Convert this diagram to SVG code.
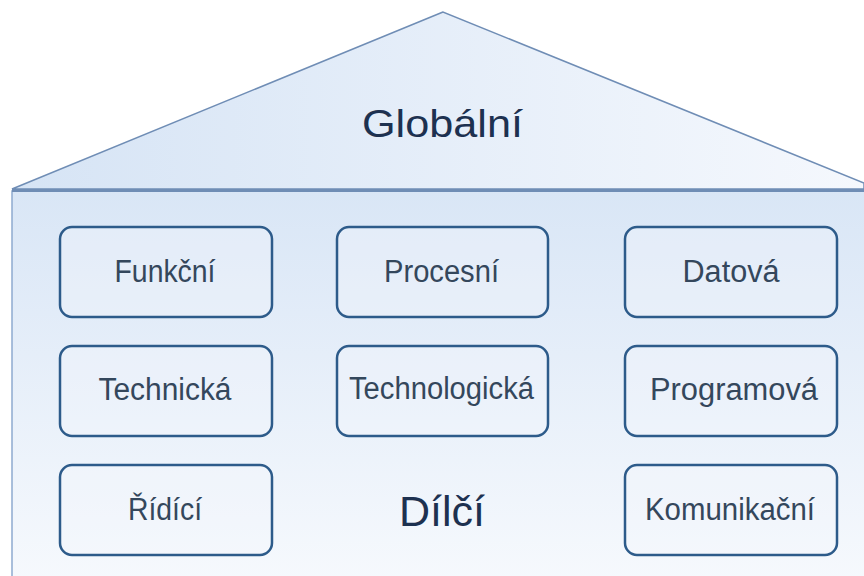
<svg xmlns="http://www.w3.org/2000/svg" width="864" height="576" viewBox="0 0 864 576">
  <defs>
    <linearGradient id="roofFill" x1="0" y1="0" x2="1" y2="0">
      <stop offset="0" stop-color="#d6e4f5"/>
      <stop offset="1" stop-color="#f5f8fd"/>
    </linearGradient>
    <linearGradient id="bodyFill" x1="0" y1="0" x2="0" y2="1">
      <stop offset="0" stop-color="#d9e6f6"/>
      <stop offset="1" stop-color="#f6f9fd"/>
    </linearGradient>
    <style>
      .box { fill: #f3f7fc; fill-opacity: 0.35; stroke: #2d5b8a; stroke-width: 2.5; }
      .lbl { font-family: "Liberation Sans", Arial, sans-serif; font-size: 31px; fill: #34475c; text-anchor: middle; }
      .big { font-family: "Liberation Sans", Arial, sans-serif; fill: #1d3150; text-anchor: middle; }
    </style>
  </defs>

  <rect x="0" y="0" width="864" height="576" fill="#ffffff"/>

  <!-- roof -->
  <g id="roof">
    <polygon points="443,12 12,189 864,189 864,183" fill="url(#roofFill)" stroke="#6f8db5" stroke-width="1.5"/>
    <text class="big" x="442.5" y="137" font-size="38" textLength="161" lengthAdjust="spacingAndGlyphs">Globální</text>
  </g>

  <!-- body -->
  <g id="body">
    <rect x="12" y="191" width="860" height="390" fill="url(#bodyFill)" stroke="#8eaad0" stroke-width="1.5"/>
    <line x1="12" y1="190.5" x2="864" y2="190.5" stroke="#6f8db5" stroke-width="3"/>
    <text class="big" x="442" y="526" font-size="43">Dílčí</text>
  </g>

  <g id="funkcni"><rect class="box" x="60" y="227" width="212" height="90" rx="12"/><text class="lbl" x="165" y="282" textLength="101" lengthAdjust="spacingAndGlyphs">Funkční</text></g>
  <g id="procesni"><rect class="box" x="337" y="227" width="211" height="90" rx="12"/><text class="lbl" x="441.5" y="282" textLength="115" lengthAdjust="spacingAndGlyphs">Procesní</text></g>
  <g id="datova"><rect class="box" x="625" y="227" width="212" height="90" rx="12"/><text class="lbl" x="731" y="282" textLength="97" lengthAdjust="spacingAndGlyphs">Datová</text></g>

  <g id="technicka"><rect class="box" x="60" y="346" width="212" height="90" rx="12"/><text class="lbl" x="165" y="400" textLength="133" lengthAdjust="spacingAndGlyphs">Technická</text></g>
  <g id="technologicka"><rect class="box" x="337" y="346" width="211" height="90" rx="12"/><text class="lbl" x="441.5" y="399" textLength="185" lengthAdjust="spacingAndGlyphs">Technologická</text></g>
  <g id="programova"><rect class="box" x="625" y="346" width="212" height="90" rx="12"/><text class="lbl" x="734" y="400" textLength="168" lengthAdjust="spacingAndGlyphs">Programová</text></g>

  <g id="ridici"><rect class="box" x="60" y="465" width="212" height="90" rx="12"/><text class="lbl" x="165" y="520" textLength="74" lengthAdjust="spacingAndGlyphs">Řídící</text></g>
  <g id="komunikacni"><rect class="box" x="625" y="465" width="212" height="90" rx="12"/><text class="lbl" x="730" y="520" textLength="170" lengthAdjust="spacingAndGlyphs">Komunikační</text></g>

  <g id="connectors"/>
</svg>
